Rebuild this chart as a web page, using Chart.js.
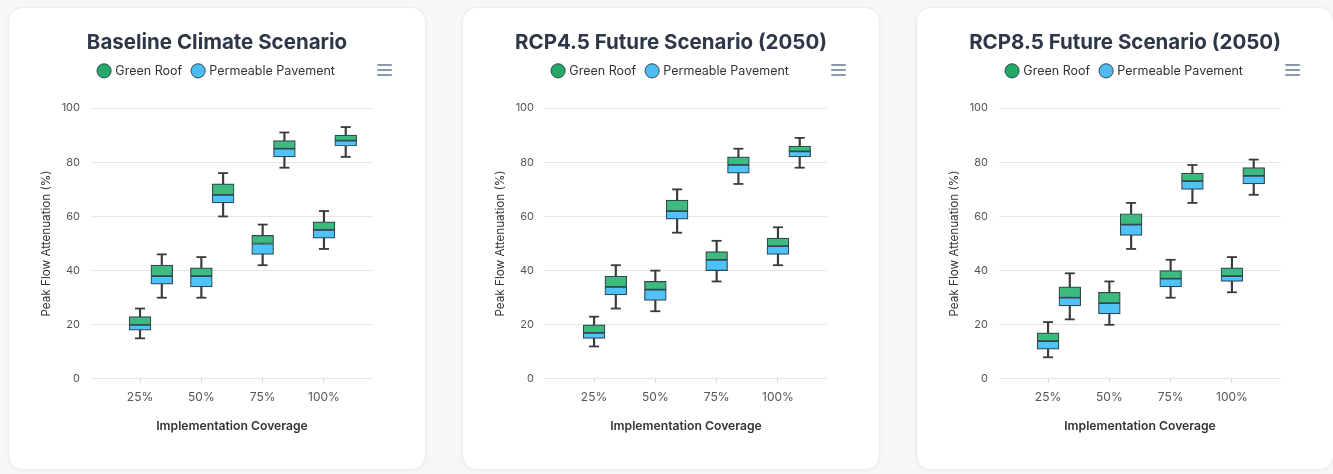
<!DOCTYPE html>
<html>
<head>
<meta charset="utf-8">
<script src="https://cdn.jsdelivr.net/npm/chart.js@4.4.1/dist/chart.umd.min.js"></script>
<style>
    html, body { margin: 0; padding: 0; }
    body { width: 1333px; height: 474px; background: #f7f7f8; overflow: hidden; position: relative; font-family: Inter, sans-serif; }
    .card { position: absolute; top: 7px; width: 418px; height: 463px; background: #fff; border: 1px solid #ebebeb; border-radius: 14px; box-shadow: 0 1px 4px rgba(0,0,0,0.04); box-sizing: border-box; overflow: hidden; }
    .card canvas { position: absolute; left: -1px; top: -1px; }
    .menu { position: absolute; left: 368px; top: 56px; width: 15px; }
    .menu span { display: block; height: 2px; background: #8a98ab; margin-bottom: 3px; border-radius: 1px; }
</style>
</head>
<body>
<div class="card" style="left:8px"><canvas id="chart1" width="418" height="463"></canvas><div class="menu"><span></span><span></span><span></span></div></div>
<div class="card" style="left:462px"><canvas id="chart2" width="418" height="463"></canvas><div class="menu"><span></span><span></span><span></span></div></div>
<div class="card" style="left:916px"><canvas id="chart3" width="418" height="463"></canvas><div class="menu"><span></span><span></span><span></span></div></div>
<script>
// coverage categories on the x axis
const categories = ["25%", "50%", "75%", "100%"];
const seriesNames = ["Green Roof", "Permeable Pavement"];

// [min, q1, median, q3, max] per category
const baselineGreenRoof = [[15, 18, 20, 23, 26], [30, 34, 38, 41, 45], [42, 46, 50, 53, 57], [48, 52, 55, 58, 62]];
const baselinePavement = [[30, 35, 38, 42, 46], [60, 65, 68, 72, 76], [78, 82, 85, 88, 91], [82, 86, 88, 90, 93]];

const rcp45GreenRoof = [[12, 15, 17, 20, 23], [25, 29, 33, 36, 40], [36, 40, 44, 47, 51], [42, 46, 49, 52, 56]];
const rcp45Pavement = [[26, 31, 34, 38, 42], [54, 59, 62, 66, 70], [72, 76, 79, 82, 85], [78, 82, 84, 86, 89]];

const rcp85GreenRoof = [[8, 11, 14, 17, 21], [20, 24, 28, 32, 36], [30, 34, 37, 40, 44], [32, 36, 38, 41, 45]];
const rcp85Pavement = [[22, 27, 30, 34, 39], [48, 53, 57, 61, 65], [65, 70, 73, 76, 79], [68, 72, 75, 78, 81]];

const yTicks = [0, 20, 40, 60, 80, 100];

const upperColor = "#3dba7e";
const lowerColor = "#4fc3f7";
const outline = "#33474f";
const whiskerColor = "#3b3b3b";
const boxShift = 0.355;

Chart.defaults.font.family = "Inter, 'Noto Sans', sans-serif";

// legend gets a little more room below it
const legendGap = {
    id: "legendGap",
    beforeInit(chart) {
        const fit = chart.legend.fit;
        chart.legend.fit = function () {
            fit.bind(chart.legend)();
            this.height += 21;
        };
    }
};

function boxPoints(green, pave) {
    const pts = [];
    green.forEach((s, i) => pts.push({ x: i + 1, s: s }));
    pave.forEach((s, i) => pts.push({ x: i + 1 + boxShift, s: s }));
    return pts;
}

function makeChart(id, title, green, pave) {
    const pts = boxPoints(green, pave);
    const ctx = document.getElementById(id).getContext("2d");

    return new Chart(ctx, {
        type: "bar",
        data: {
            datasets: [
                {
                    label: "upper",
                    data: pts.map(p => ({ x: p.x, y: [p.s[2], p.s[3]] })),
                    backgroundColor: upperColor,
                    borderColor: outline,
                    borderWidth: 1.2,
                    borderSkipped: false,
                    grouped: false,
                    barThickness: 21.8
                },
                {
                    label: "lower",
                    data: pts.map(p => ({ x: p.x, y: [p.s[1], p.s[2]] })),
                    backgroundColor: lowerColor,
                    borderColor: outline,
                    borderWidth: 1.2,
                    borderSkipped: false,
                    grouped: false,
                    barThickness: 21.8
                },
                {
                    label: "whisker",
                    data: pts.map(p => ({ x: p.x, y: [p.s[0], p.s[4]] })),
                    backgroundColor: whiskerColor,
                    borderWidth: 0,
                    grouped: false,
                    barThickness: 1.5
                },
                {
                    type: "scatter",
                    label: "caps",
                    data: pts.flatMap(p => [{ x: p.x, y: p.s[0] }, { x: p.x, y: p.s[4] }]),
                    pointStyle: "line",
                    pointRadius: 5,
                    pointBorderWidth: 1.8,
                    pointBorderColor: whiskerColor,
                    showLine: false
                }
            ]
        },
        options: {
            responsive: false,
            animation: false,
            events: [],
            layout: { padding: { top: 0, left: 0, right: 0, bottom: 36 } },
            plugins: {
                tooltip: { enabled: false },
                title: {
                    display: true,
                    text: title,
                    color: "#2d3748",
                    font: { size: 20.5, weight: "bold" },
                    padding: { top: 24, bottom: -2 }
                },
                legend: {
                    position: "top",
                    labels: {
                        color: "#333",
                        font: { size: 12.5 },
                        usePointStyle: true,
                        boxWidth: 10,
                        boxHeight: 10,
                        padding: 11,
                        generateLabels: () => [
                            { text: seriesNames[0], fillStyle: "#24a866", strokeStyle: outline, lineWidth: 1, pointStyle: "circle", fontColor: "#333", hidden: false, datasetIndex: 0 },
                            { text: seriesNames[1], fillStyle: "#4dbcf2", strokeStyle: outline, lineWidth: 1, pointStyle: "circle", fontColor: "#333", hidden: false, datasetIndex: 1 }
                        ]
                    }
                }
            },
            scales: {
                x: {
                    type: "linear",
                    position: "bottom",
                    offset: false,
                    min: 0.2,
                    max: 4.8,
                    afterBuildTicks: scale => {
                        scale.ticks = categories.map((c, i) => ({ value: i + 1 }));
                    },
                    ticks: {
                        callback: v => categories[v - 1],
                        color: "#555",
                        font: { size: 12 },
                        padding: 7,
                        maxRotation: 0,
                        autoSkip: false
                    },
                    grid: { offset: false, drawOnChartArea: false, drawTicks: true, tickLength: 4, color: "#dcdcdc" },
                    border: { display: false },
                    title: {
                        display: true,
                        text: "Implementation Coverage",
                        color: "#333",
                        font: { size: 12.2, weight: 600 },
                        padding: { top: 8, bottom: 0 }
                    }
                },
                y: {
                    min: 0,
                    max: 100,
                    afterBuildTicks: scale => {
                        scale.ticks = yTicks.map(v => ({ value: v }));
                    },
                    afterFit: scale => { scale.width = 83; },
                    ticks: { color: "#555", font: { size: 11 }, padding: 11 },
                    grid: { color: "#e6e6e6", drawTicks: false },
                    border: { display: false },
                    title: {
                        display: true,
                        text: "Peak Flow Attenuation (%)",
                        color: "#333",
                        font: { size: 11.7 },
                        padding: { top: 31, bottom: 0 }
                    }
                },
                // empty right-hand axis, only keeps the plot clear of the card edge
                spacer: {
                    type: "linear",
                    position: "right",
                    afterFit: scale => { scale.width = 53; },
                    ticks: { display: false },
                    grid: { display: false },
                    border: { display: false }
                }
            }
        },
        plugins: [legendGap]
    });
}

makeChart("chart1", "Baseline Climate Scenario", baselineGreenRoof, baselinePavement);
makeChart("chart2", "RCP4.5 Future Scenario (2050)", rcp45GreenRoof, rcp45Pavement);
makeChart("chart3", "RCP8.5 Future Scenario (2050)", rcp85GreenRoof, rcp85Pavement);
</script>
</body>
</html>
